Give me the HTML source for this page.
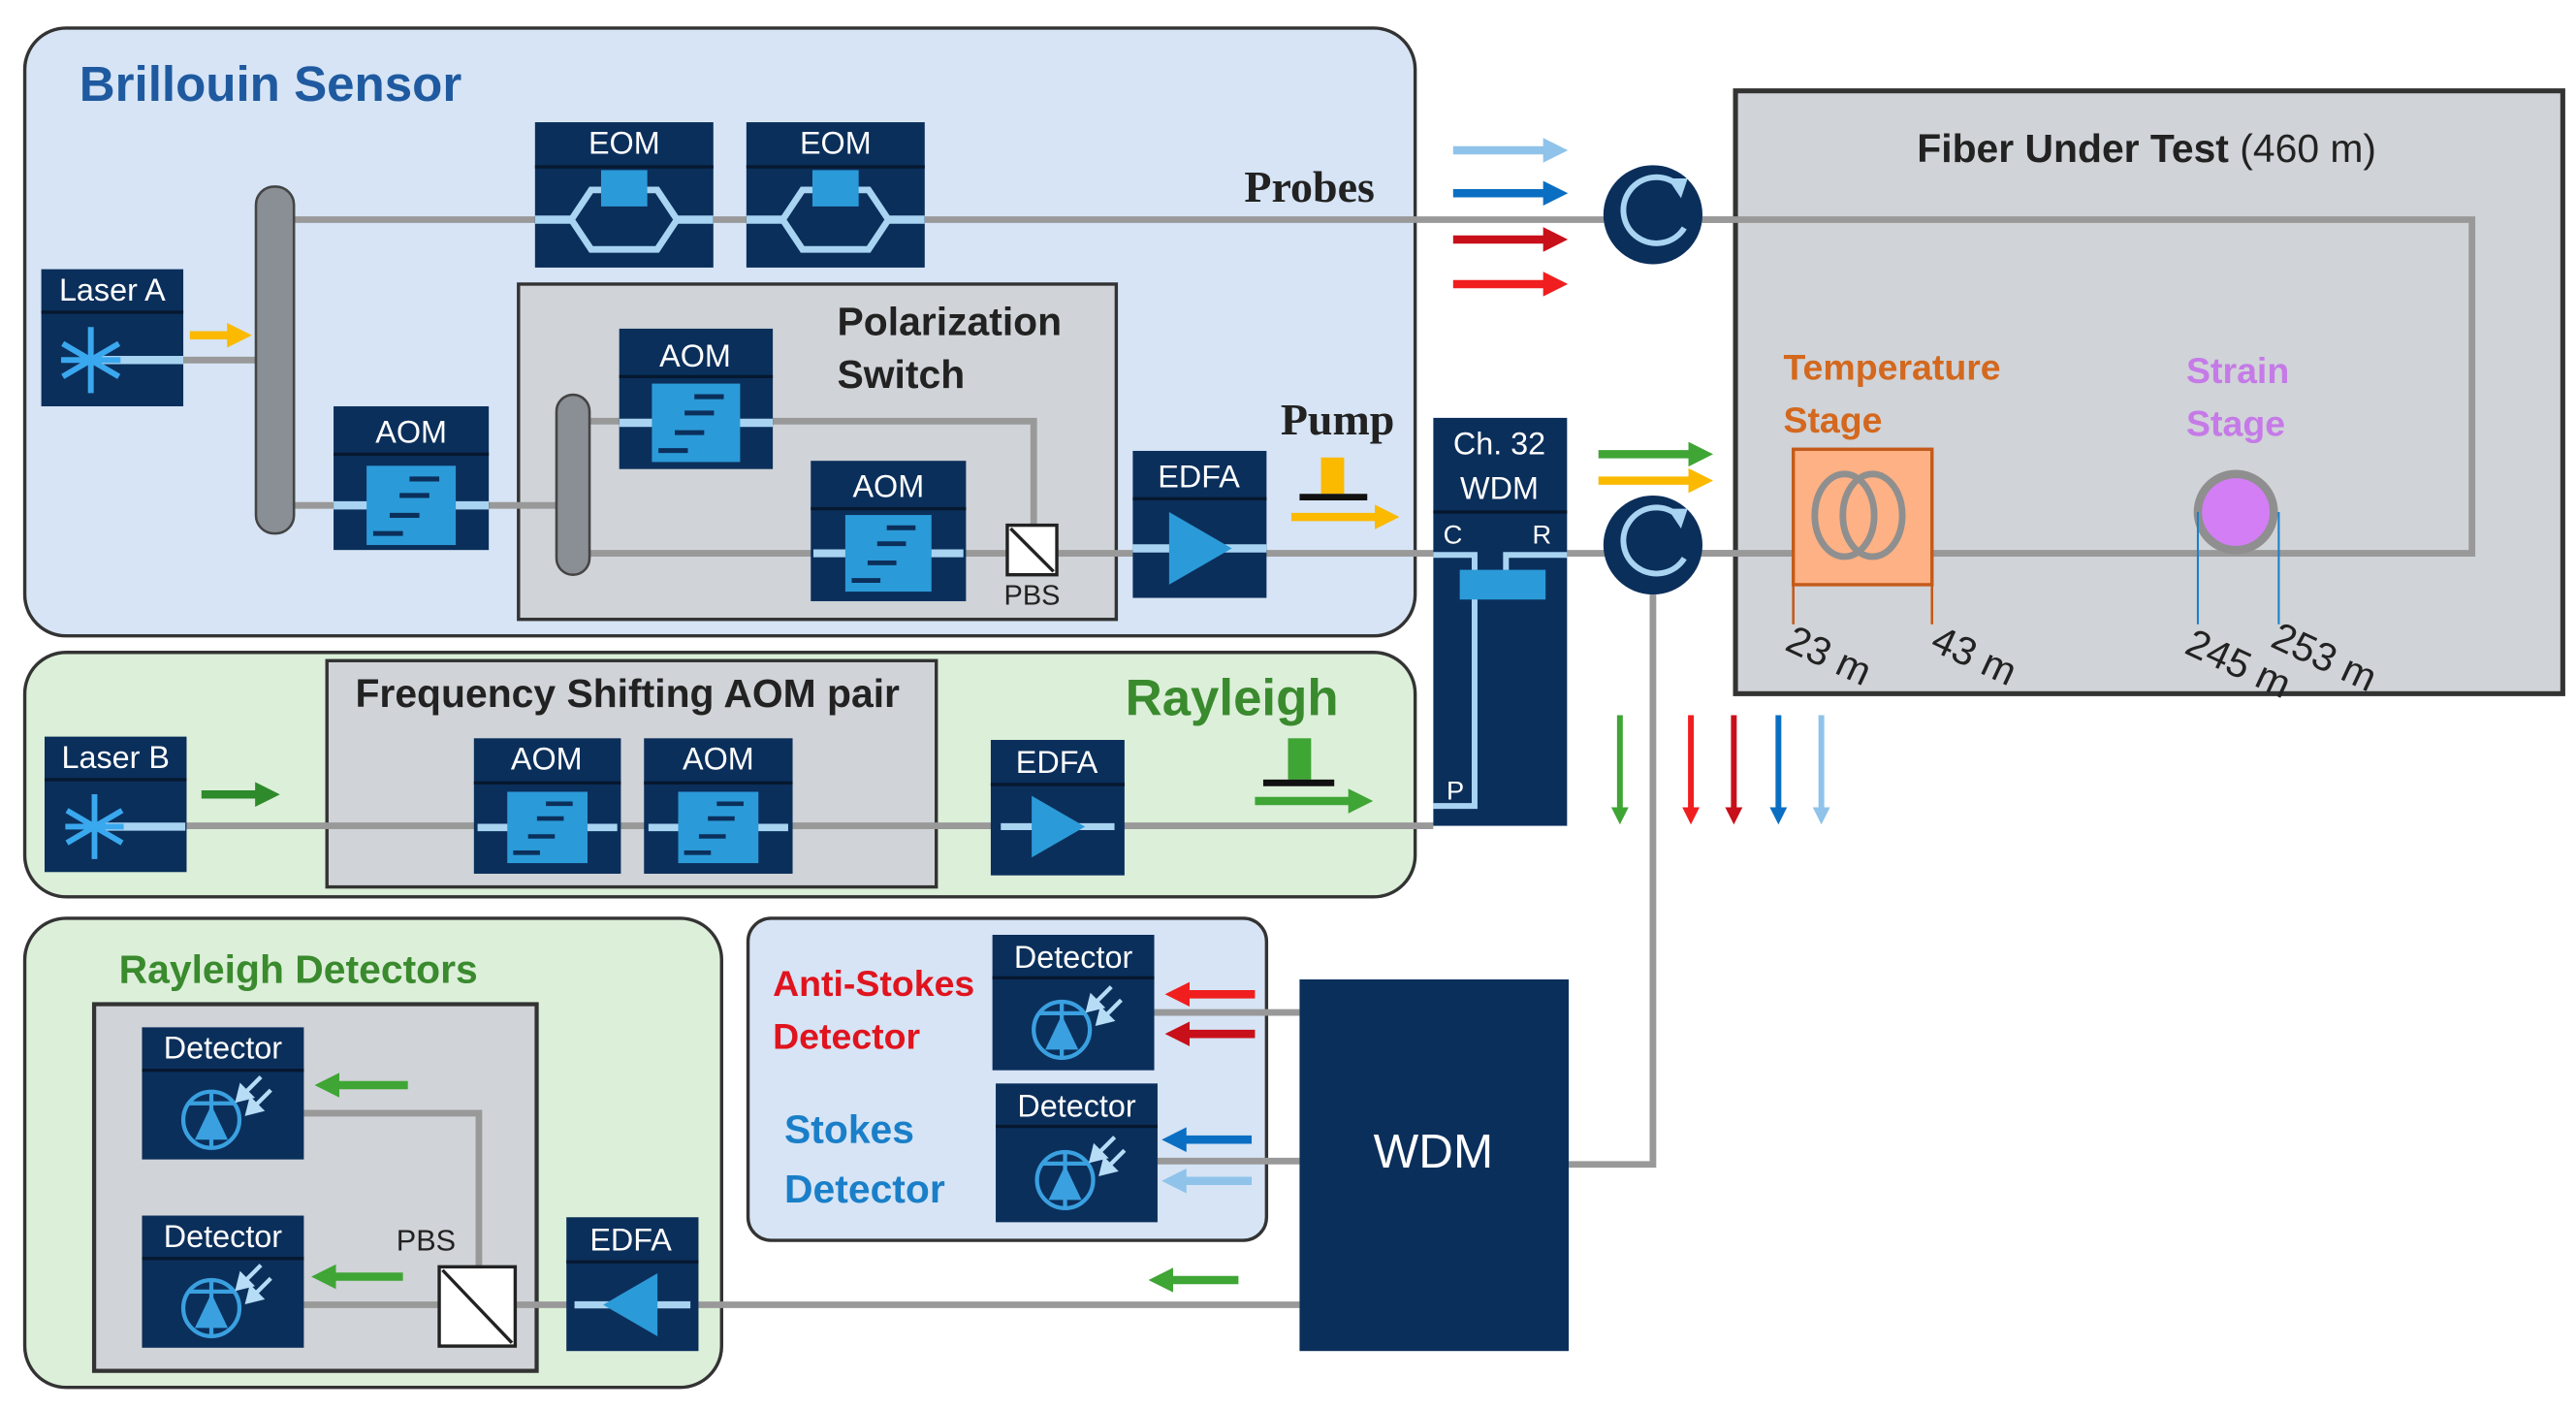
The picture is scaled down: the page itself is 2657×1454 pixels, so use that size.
<!DOCTYPE html>
<html><head><meta charset="utf-8"><style>
html,body{margin:0;padding:0;background:#fff;}
svg{display:block;}
text{font-family:"Liberation Sans",sans-serif;}
.w{fill:#fff;font-size:19px;}
.b{font-weight:bold;}
</style></head><body>
<svg width="2657" height="1454" viewBox="0 0 1560 853.7" preserveAspectRatio="none" xmlns="http://www.w3.org/2000/svg">
<defs>
<symbol id="aom" viewBox="0 0 94 60"><line x1="0" y1="30" x2="94" y2="30" stroke="#a8d4f2" stroke-width="5"/><rect x="20" y="6" width="54" height="48" fill="#2b9ad8"/><g stroke="#0b2f5b" stroke-width="3"><line x1="46" y1="14" x2="64" y2="14"/><line x1="40" y1="24" x2="58" y2="24"/><line x1="34" y1="36" x2="52" y2="36"/><line x1="24" y1="47" x2="42" y2="47"/></g></symbol>
<symbol id="eom" viewBox="0 0 108 62"><line x1="0" y1="32" x2="22" y2="32" stroke="#a8d4f2" stroke-width="5"/><line x1="86" y1="32" x2="108" y2="32" stroke="#a8d4f2" stroke-width="5"/><polygon points="22,32 34,14 74,14 86,32 74,50 34,50" fill="none" stroke="#a8d4f2" stroke-width="4"/><rect x="40" y="2" width="28" height="22" fill="#2b9ad8"/></symbol>
<symbol id="laser" viewBox="0 0 86 56"><line x1="30" y1="28" x2="86" y2="28" stroke="#a8d4f2" stroke-width="5"/><g stroke="#3aa8ee" stroke-width="3.5"><line x1="30" y1="8" x2="30" y2="48"/><line x1="13" y1="18" x2="47" y2="38"/><line x1="13" y1="38" x2="47" y2="18"/><line x1="12" y1="28" x2="48" y2="28"/></g></symbol>
<symbol id="edfa" viewBox="0 0 81 60"><line x1="0" y1="30" x2="81" y2="30" stroke="#a8d4f2" stroke-width="5"/><polygon points="22,8 22,52 60,30" fill="#2b9ad8"/></symbol>
<symbol id="edfal" viewBox="0 0 81 60"><line x1="0" y1="30" x2="81" y2="30" stroke="#a8d4f2" stroke-width="5"/><polygon points="58,8 58,52 20,30" fill="#2b9ad8"/></symbol>
<symbol id="det" viewBox="0 0 98 54"><circle cx="42" cy="30" r="17" fill="none" stroke="#3aa0e0" stroke-width="2.5"/><line x1="28" y1="20" x2="56" y2="20" stroke="#3aa0e0" stroke-width="2.5"/><line x1="42" y1="13" x2="42" y2="47" stroke="#3aa0e0" stroke-width="2.5"/><polygon points="32,42 52,42 42,21" fill="#3aa0e0"/><g stroke="#b6dcf6" stroke-width="2.5" fill="#b6dcf6"><line x1="72" y1="4" x2="62" y2="14"/><polygon points="58,18 60,10 66,16"/><line x1="78" y1="12" x2="68" y2="22"/><polygon points="64,26 66,18 72,24"/></g></symbol>
<marker id="mlb" viewBox="0 0 10 10" refX="5" refY="5" markerWidth="3" markerHeight="3" orient="auto"><path d="M0,0L10,5L0,10z" fill="#8fc3ea"/></marker>
<marker id="mb" viewBox="0 0 10 10" refX="5" refY="5" markerWidth="3" markerHeight="3" orient="auto"><path d="M0,0L10,5L0,10z" fill="#0a6fc2"/></marker>
<marker id="mdr" viewBox="0 0 10 10" refX="5" refY="5" markerWidth="3" markerHeight="3" orient="auto"><path d="M0,0L10,5L0,10z" fill="#c8101a"/></marker>
<marker id="mr" viewBox="0 0 10 10" refX="5" refY="5" markerWidth="3" markerHeight="3" orient="auto"><path d="M0,0L10,5L0,10z" fill="#f01e1e"/></marker>
<marker id="mg" viewBox="0 0 10 10" refX="5" refY="5" markerWidth="3" markerHeight="3" orient="auto"><path d="M0,0L10,5L0,10z" fill="#3fa535"/></marker>
<marker id="mgd" viewBox="0 0 10 10" refX="5" refY="5" markerWidth="3" markerHeight="3" orient="auto"><path d="M0,0L10,5L0,10z" fill="#2e8a2a"/></marker>
<marker id="my" viewBox="0 0 10 10" refX="5" refY="5" markerWidth="3" markerHeight="3" orient="auto"><path d="M0,0L10,5L0,10z" fill="#fbb900"/></marker>
</defs>

<!-- Brillouin box -->
<rect x="15" y="17" width="842" height="368" rx="25" fill="#d6e4f5" stroke="#333" stroke-width="2"/>
<text x="48" y="61" font-size="30" class="b" fill="#1f5aa0">Brillouin Sensor</text>
<rect x="314" y="172" width="362" height="203" fill="#d0d3d7" stroke="#333" stroke-width="2"/>
<text x="507" y="203" font-size="24" class="b" fill="#222">Polarization</text>
<text x="507" y="235" font-size="24" class="b" fill="#222">Switch</text>

<g stroke="#999" stroke-width="4" fill="none">
<line x1="178" y1="133" x2="1497" y2="133"/>
<polyline points="1497,133 1497,335 949,335"/>
<line x1="111" y1="218" x2="155" y2="218"/>
<line x1="178" y1="306" x2="337" y2="306"/>
<polyline points="357,255 626,255 626,318"/>
<line x1="357" y1="335" x2="870" y2="335"/>
<polyline points="1001,360 1001,705 950,705"/>
</g>
<rect x="155" y="113" width="23" height="210" rx="11" fill="#8a8f96" stroke="#444" stroke-width="1.5"/>
<rect x="337" y="239" width="20" height="109" rx="10" fill="#8a8f96" stroke="#444" stroke-width="1.5"/>

<g fill="#0b2f5b">
<rect x="324" y="74" width="108" height="88"/><rect x="452" y="74" width="108" height="88"/>
<rect x="25" y="163" width="86" height="83"/>
<rect x="202" y="246" width="94" height="87"/>
<rect x="375" y="199" width="93" height="85"/>
<rect x="491" y="279" width="94" height="85"/>
<rect x="686" y="273" width="81" height="89"/>
</g>
<g stroke="#06182f" stroke-width="2">
<line x1="324" y1="101" x2="432" y2="101"/><line x1="452" y1="101" x2="560" y2="101"/>
<line x1="25" y1="189" x2="111" y2="189"/><line x1="202" y1="275" x2="296" y2="275"/>
<line x1="375" y1="228" x2="468" y2="228"/><line x1="491" y1="308" x2="585" y2="308"/>
<line x1="686" y1="302" x2="767" y2="302"/>
</g>
<text x="378" y="93" class="w" text-anchor="middle">EOM</text>
<text x="506" y="93" class="w" text-anchor="middle">EOM</text>
<text x="68" y="182" class="w" text-anchor="middle">Laser A</text>
<text x="249" y="268" class="w" text-anchor="middle">AOM</text>
<text x="421" y="222" class="w" text-anchor="middle">AOM</text>
<text x="538" y="301" class="w" text-anchor="middle">AOM</text>
<text x="726" y="295" class="w" text-anchor="middle">EDFA</text>
<use href="#eom" x="324" y="101" width="108" height="62"/>
<use href="#eom" x="452" y="101" width="108" height="62"/>
<use href="#laser" x="25" y="190" width="86" height="56"/>
<use href="#aom" x="202" y="276" width="94" height="60"/>
<use href="#aom" x="375" y="226" width="93" height="60"/>
<use href="#aom" x="491" y="306" width="94" height="58"/>
<use href="#edfa" x="686" y="302" width="81" height="60"/>
<rect x="610" y="318" width="30" height="30" fill="#fff" stroke="#222" stroke-width="2"/>
<line x1="612" y1="320" x2="638" y2="346" stroke="#222" stroke-width="2"/>
<text x="625" y="366" font-size="17" text-anchor="middle" fill="#222">PBS</text>
<line x1="115" y1="203" x2="145" y2="203" stroke="#fbb900" stroke-width="5" marker-end="url(#my)"/>
<text x="793" y="122" font-size="27" class="b" text-anchor="middle" fill="#222" style="font-family:'Liberation Serif',serif">Probes</text>
<text x="810" y="263" font-size="27" class="b" text-anchor="middle" fill="#222" style="font-family:'Liberation Serif',serif">Pump</text>
<rect x="800" y="277" width="14" height="22" fill="#fbb900"/>
<line x1="787" y1="301" x2="828" y2="301" stroke="#111" stroke-width="4"/>
<line x1="782" y1="313" x2="840" y2="313" stroke="#fbb900" stroke-width="5" marker-end="url(#my)"/>

<!-- Rayleigh box -->
<rect x="15" y="395" width="842" height="148" rx="25" fill="#dcefd9" stroke="#333" stroke-width="2"/>
<rect x="198" y="400" width="369" height="137" fill="#d0d3d7" stroke="#333" stroke-width="2"/>
<text x="380" y="428" font-size="24" class="b" text-anchor="middle" fill="#222">Frequency Shifting AOM pair</text>
<text x="746" y="433" font-size="31" class="b" text-anchor="middle" fill="#3a8a2e">Rayleigh</text>
<line x1="113" y1="500" x2="868" y2="500" stroke="#999" stroke-width="4"/>
<g fill="#0b2f5b">
<rect x="27" y="446" width="86" height="82"/>
<rect x="287" y="447" width="89" height="82"/><rect x="390" y="447" width="90" height="82"/>
<rect x="600" y="448" width="81" height="82"/>
</g>
<g stroke="#06182f" stroke-width="2">
<line x1="27" y1="472" x2="113" y2="472"/><line x1="287" y1="474" x2="376" y2="474"/><line x1="390" y1="474" x2="480" y2="474"/><line x1="600" y1="475" x2="681" y2="475"/>
</g>
<text x="70" y="465" class="w" text-anchor="middle">Laser B</text>
<text x="331" y="466" class="w" text-anchor="middle">AOM</text>
<text x="435" y="466" class="w" text-anchor="middle">AOM</text>
<text x="640" y="468" class="w" text-anchor="middle">EDFA</text>
<use href="#laser" x="27" y="473" width="86" height="55"/>
<use href="#aom" x="287" y="474" width="89" height="54"/>
<use href="#aom" x="390" y="474" width="90" height="54"/>
<use href="#edfa" x="600" y="475" width="81" height="51"/>
<line x1="122" y1="481" x2="162" y2="481" stroke="#2e8a2a" stroke-width="5" marker-end="url(#mgd)"/>
<rect x="780" y="447" width="14" height="25" fill="#3fa535"/>
<line x1="765" y1="474" x2="808" y2="474" stroke="#111" stroke-width="4"/>
<line x1="760" y1="485" x2="824" y2="485" stroke="#3fa535" stroke-width="5" marker-end="url(#mg)"/>

<!-- Ch 32 WDM -->
<rect x="868" y="253" width="81" height="247" fill="#0b2f5b"/>
<line x1="868" y1="310" x2="949" y2="310" stroke="#06182f" stroke-width="2"/>
<text x="908" y="275" class="w" text-anchor="middle">Ch. 32</text>
<text x="908" y="302" class="w" text-anchor="middle">WDM</text>
<text x="874" y="329" font-size="16" fill="#fff">C</text>
<text x="928" y="329" font-size="16" fill="#fff">R</text>
<text x="876" y="484" font-size="16" fill="#fff">P</text>
<g stroke="#a8d4f2" stroke-width="3.5" fill="none">
<polyline points="868,336 893,336 893,350"/>
<polyline points="949,336 912,336 912,350"/>
<polyline points="893,360 893,488 868,488"/>
</g>
<rect x="884" y="345" width="52" height="18" fill="#2b9ad8"/>

<!-- circulators -->
<circle cx="1001" cy="130" r="30" fill="#0b2f5b"/>
<path d="M1016,112 A20,20 0 1,0 1020,138" fill="none" stroke="#a8d4f2" stroke-width="3.5"/>
<polygon points="1010,108 1022,108 1018,120" fill="#a8d4f2"/>
<circle cx="1001" cy="330" r="30" fill="#0b2f5b"/>
<path d="M1016,312 A20,20 0 1,0 1020,338" fill="none" stroke="#a8d4f2" stroke-width="3.5"/>
<polygon points="1010,308 1022,308 1018,320" fill="#a8d4f2"/>

<line x1="880" y1="91" x2="942" y2="91" stroke="#8fc3ea" stroke-width="5" marker-end="url(#mlb)"/>
<line x1="880" y1="117" x2="942" y2="117" stroke="#0a6fc2" stroke-width="5" marker-end="url(#mb)"/>
<line x1="880" y1="145" x2="942" y2="145" stroke="#c8101a" stroke-width="5" marker-end="url(#mdr)"/>
<line x1="880" y1="172" x2="942" y2="172" stroke="#f01e1e" stroke-width="5" marker-end="url(#mr)"/>
<line x1="968" y1="275" x2="1030" y2="275" stroke="#3fa535" stroke-width="5" marker-end="url(#mg)"/>
<line x1="968" y1="291" x2="1030" y2="291" stroke="#fbb900" stroke-width="5" marker-end="url(#my)"/>
<line x1="981" y1="433" x2="981" y2="494" stroke="#3fa535" stroke-width="3.5" marker-end="url(#mg)"/>
<line x1="1024" y1="433" x2="1024" y2="494" stroke="#f01e1e" stroke-width="3.5" marker-end="url(#mr)"/>
<line x1="1050" y1="433" x2="1050" y2="494" stroke="#c8101a" stroke-width="3.5" marker-end="url(#mdr)"/>
<line x1="1077" y1="433" x2="1077" y2="494" stroke="#0a6fc2" stroke-width="3.5" marker-end="url(#mb)"/>
<line x1="1103" y1="433" x2="1103" y2="494" stroke="#8fc3ea" stroke-width="3.5" marker-end="url(#mlb)"/>

<!-- FUT -->
<rect x="1051" y="55" width="501" height="365" fill="#d0d3d7" stroke="#333" stroke-width="3"/>
<text x="1300" y="98" font-size="24" text-anchor="middle" fill="#222"><tspan font-weight="bold">Fiber Under Test</tspan> (460 m)</text>
<g stroke="#999" stroke-width="4" fill="none">
<polyline points="1031,133 1497,133 1497,335 1031,335"/>
</g>
<text x="1080" y="230" font-size="22" class="b" fill="#d3681e">Temperature</text>
<text x="1080" y="262" font-size="22" class="b" fill="#d3681e">Stage</text>
<rect x="1086" y="272" width="84" height="82" fill="#fdb184" stroke="#c45a1a" stroke-width="2"/>
<ellipse cx="1117" cy="312" rx="18" ry="25" fill="none" stroke="#8f8f8f" stroke-width="4"/>
<ellipse cx="1134" cy="312" rx="18" ry="25" fill="none" stroke="#8f8f8f" stroke-width="4"/>
<line x1="1086" y1="354" x2="1086" y2="378" stroke="#c45a1a" stroke-width="1.5"/>
<line x1="1170" y1="354" x2="1170" y2="378" stroke="#c45a1a" stroke-width="1.5"/>
<text x="1324" y="232" font-size="22" class="b" fill="#c57ae8">Strain</text>
<text x="1324" y="264" font-size="22" class="b" fill="#c57ae8">Stage</text>
<circle cx="1354" cy="310" r="23" fill="#d37ef5" stroke="#8f8f8f" stroke-width="5"/>
<line x1="1331" y1="310" x2="1331" y2="378" stroke="#1a7fc8" stroke-width="1.2"/>
<line x1="1380" y1="310" x2="1380" y2="378" stroke="#1a7fc8" stroke-width="1.2"/>
<g font-size="24" fill="#222">
<text transform="translate(1080,393) rotate(25)">23 m</text>
<text transform="translate(1168,393) rotate(25)">43 m</text>
<text transform="translate(1322,395) rotate(25)">245 m</text>
<text transform="translate(1374,391) rotate(25)">253 m</text>
</g>

<!-- Rayleigh detectors & Stokes boxes (backgrounds first) -->
<rect x="15" y="556" width="422" height="284" rx="25" fill="#dcefd9" stroke="#333" stroke-width="2"/>
<text x="72" y="595" font-size="24" class="b" fill="#3a8a2e">Rayleigh Detectors</text>
<rect x="57" y="608" width="268" height="222" fill="#d0d3d7" stroke="#333" stroke-width="2.5"/>
<rect x="453" y="556" width="314" height="195" rx="14" fill="#d6e4f5" stroke="#333" stroke-width="2"/>
<text x="468" y="603" font-size="22" class="b" fill="#e0141e">Anti-Stokes</text>
<text x="468" y="635" font-size="22" class="b" fill="#e0141e">Detector</text>
<text x="475" y="692" font-size="24" class="b" fill="#1a7fc8">Stokes</text>
<text x="475" y="728" font-size="24" class="b" fill="#1a7fc8">Detector</text>

<g stroke="#999" stroke-width="4" fill="none">
<polyline points="184,674 290,674 290,767"/>
<line x1="184" y1="790" x2="266" y2="790"/>
<line x1="312" y1="790" x2="787" y2="790"/>
<line x1="699" y1="613" x2="787" y2="613"/>
<line x1="701" y1="703" x2="787" y2="703"/>
</g>
<g fill="#0b2f5b">
<rect x="86" y="622" width="98" height="80"/><rect x="86" y="736" width="98" height="80"/>
<rect x="343" y="737" width="80" height="81"/>
<rect x="601" y="566" width="98" height="82"/><rect x="603" y="656" width="98" height="84"/>
</g>
<g stroke="#06182f" stroke-width="2">
<line x1="86" y1="648" x2="184" y2="648"/><line x1="86" y1="762" x2="184" y2="762"/>
<line x1="343" y1="764" x2="423" y2="764"/>
<line x1="601" y1="592" x2="699" y2="592"/><line x1="603" y1="682" x2="701" y2="682"/>
</g>
<text x="135" y="641" class="w" text-anchor="middle">Detector</text>
<text x="135" y="755" class="w" text-anchor="middle">Detector</text>
<text x="382" y="757" class="w" text-anchor="middle">EDFA</text>
<text x="650" y="586" class="w" text-anchor="middle">Detector</text>
<text x="652" y="676" class="w" text-anchor="middle">Detector</text>
<use href="#det" x="86" y="648" width="98" height="54"/>
<use href="#det" x="86" y="762" width="98" height="54"/>
<use href="#det" x="601" y="593" width="98" height="55"/>
<use href="#det" x="603" y="683" width="98" height="57"/>
<use href="#edfal" x="343" y="764" width="80" height="52"/>
<rect x="266" y="767" width="46" height="48" fill="#fff" stroke="#222" stroke-width="2"/>
<line x1="268" y1="769" x2="310" y2="813" stroke="#222" stroke-width="2"/>
<text x="258" y="757" font-size="18" text-anchor="middle" fill="#222">PBS</text>
<line x1="247" y1="657" x2="198" y2="657" stroke="#3fa535" stroke-width="5" marker-end="url(#mg)"/>
<line x1="244" y1="773" x2="196" y2="773" stroke="#3fa535" stroke-width="5" marker-end="url(#mg)"/>
<line x1="750" y1="775" x2="703" y2="775" stroke="#3fa535" stroke-width="5" marker-end="url(#mg)"/>
<line x1="760" y1="602" x2="713" y2="602" stroke="#f01e1e" stroke-width="5" marker-end="url(#mr)"/>
<line x1="760" y1="626" x2="713" y2="626" stroke="#c8101a" stroke-width="5" marker-end="url(#mdr)"/>
<line x1="758" y1="690" x2="711" y2="690" stroke="#0a6fc2" stroke-width="5" marker-end="url(#mb)"/>
<line x1="758" y1="715" x2="711" y2="715" stroke="#8fc3ea" stroke-width="5" marker-end="url(#mlb)"/>

<!-- WDM -->
<rect x="787" y="593" width="163" height="225" fill="#0b2f5b"/>
<text x="868" y="707" font-size="29" text-anchor="middle" fill="#fff">WDM</text>
</svg>
</body></html>
